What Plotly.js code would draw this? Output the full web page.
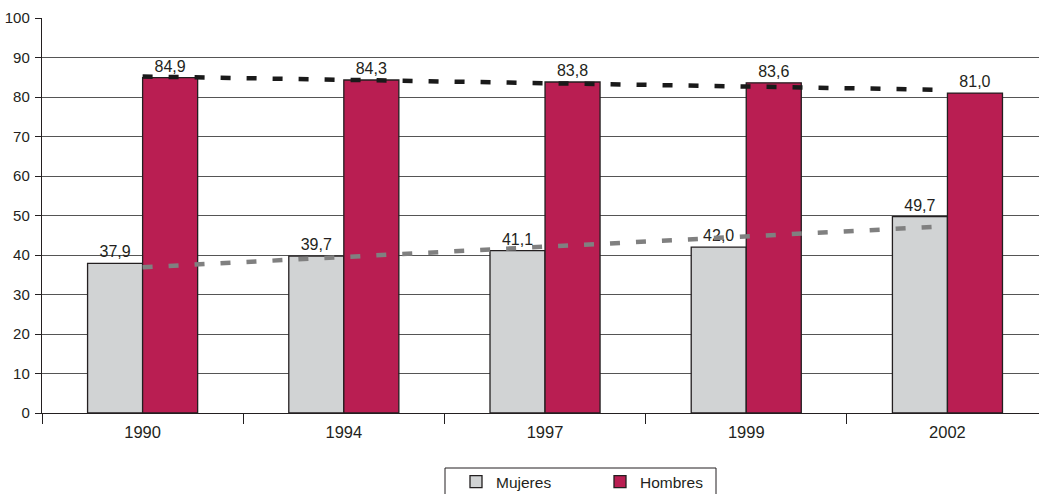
<!DOCTYPE html>
<html>
<head>
<meta charset="utf-8">
<script src="https://cdn.plot.ly/plotly-3.0.1.min.js"></script>
<style>
html,body{margin:0;padding:0;background:#fff;}
#chart{width:1039px;height:494px;}
</style>
</head>
<body>
<div id="chart"></div>
<script>
var years = ['1990', '1994', '1997', '1999', '2002'];
var mujeres = [37.9, 39.7, 41.1, 42.0, 49.7];
var hombres = [84.9, 84.3, 83.8, 83.6, 81.0];
// trend lines at each category centre
var trendMujeres = [36.9, 39.5, 42.1, 44.7, 47.3];
var trendHombres = [85.2, 84.4, 83.5, 82.7, 81.8];
var yTicks = [0, 10, 20, 30, 40, 50, 60, 70, 80, 90, 100];

var txt = '#231f20';
var fontFam = 'Liberation Sans, Arial, sans-serif';

var traces = [
  {
    type: 'bar', name: 'Mujeres', x: years, y: mujeres,
    marker: {color: '#d1d3d4', line: {color: '#231f20', width: 1.3}},
    texttemplate: '%{y:.1f}', textposition: 'outside', cliponaxis: false,
    textfont: {family: fontFam, size: 16, color: txt},
    hoverinfo: 'skip'
  },
  {
    type: 'bar', name: 'Hombres', x: years, y: hombres,
    marker: {color: '#b91e52', line: {color: '#231f20', width: 1.3}},
    texttemplate: '%{y:.1f}', textposition: 'outside', cliponaxis: false,
    textfont: {family: fontFam, size: 16, color: txt},
    hoverinfo: 'skip'
  },
  {
    type: 'scatter', mode: 'lines', x: years, y: trendHombres, showlegend: false,
    line: {color: '#1a1a1a', width: 4.5, dash: '10px,16px'}, hoverinfo: 'skip'
  },
  {
    type: 'scatter', mode: 'lines', x: years, y: trendMujeres, showlegend: false,
    line: {color: '#808080', width: 4.5, dash: '10px,16px'}, hoverinfo: 'skip'
  }
];

var layout = {
  width: 1039, height: 494,
  margin: {l: 42, r: 0, t: 18, b: 81, pad: 0, autoexpand: false},
  paper_bgcolor: '#fff', plot_bgcolor: '#fff',
  separators: ',.',
  font: {family: fontFam, size: 15, color: txt},
  barmode: 'group', bargap: 0.453, bargroupgap: 0,
  showlegend: true,
  legend: {
    orientation: 'h', xref: 'container', yref: 'container',
    x: 456 / 1039, xanchor: 'left', y: (494 - 465) / 494, yanchor: 'top',
    borderwidth: 0, bgcolor: 'rgba(0,0,0,0)',
    font: {family: fontFam, size: 15.5, color: txt},
    entrywidth: 99, entrywidthmode: 'pixels', traceorder: 'normal'
  },
  shapes: [{
    type: 'rect', xref: 'paper', yref: 'paper', layer: 'above',
    x0: (445 - 42) / 997, x1: (716 - 42) / 997,
    y0: (413 - 468) / 395, y1: -0.25,
    line: {color: '#231f20', width: 1}, fillcolor: 'rgba(0,0,0,0)'
  }],
  xaxis: {
    type: 'category', range: [-0.5, 4.455],
    tickson: 'boundaries', ticks: 'outside', ticklen: 10, tickwidth: 1, tickcolor: '#231f20',
    showline: true, linecolor: '#231f20', linewidth: 1.2,
    showgrid: false, zeroline: false,
    tickfont: {family: fontFam, size: 16.5, color: txt},
    ticklabelstandoff: 4,
    fixedrange: true
  },
  yaxis: {
    range: [0, 100], tickvals: yTicks, ticktext: yTicks.map(String),
    ticks: 'outside', ticklen: 6, tickwidth: 1, tickcolor: '#231f20',
    showline: true, linecolor: '#231f20', linewidth: 1.2,
    showgrid: true, gridcolor: '#555555', gridwidth: 1,
    zeroline: false,
    tickfont: {family: fontFam, size: 15, color: txt},
    ticklabelstandoff: 2,
    fixedrange: true
  }
};

Plotly.newPlot('chart', traces, layout, {displayModeBar: false, staticPlot: true});
</script>
</body>
</html>
